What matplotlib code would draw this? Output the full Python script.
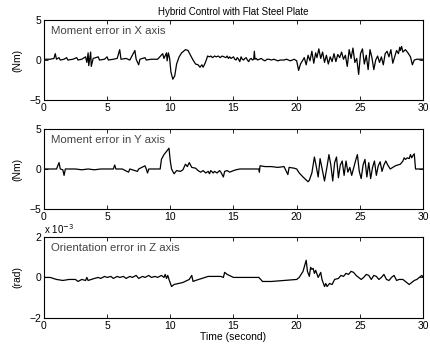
import matplotlib
matplotlib.use("Agg")
import matplotlib.pyplot as plt

plt.rcParams['font.family'] = ['Liberation Sans', 'DejaVu Sans']

title = "Hybrid Control with Flat Steel Plate"
labels = ["Moment error in X axis", "Moment error in Y axis", "Orientation error in Z axis"]
ylabels = ["(Nm)", "(Nm)", "(rad)"]
xlabel = "Time (second)"
xticks = [0, 5, 10, 15, 20, 25, 30]

tx = [0.0, 0.5, 0.8, 0.9, 1.0, 1.2, 1.3, 1.6, 1.8, 1.9, 2.3, 2.6, 2.7, 3.0, 3.3, 3.4, 3.5, 3.55, 3.7, 3.75,
      3.9, 4.3, 4.4, 4.8, 5.0, 5.1, 5.5, 5.8, 6.0, 6.1, 6.5, 6.8, 7.2, 7.3, 7.5, 7.6, 8.0, 8.1, 8.5, 9.0,
      9.4, 9.5, 9.7, 9.75, 9.85, 9.95, 10.05, 10.2, 10.35, 10.5, 10.7, 10.9, 11.2, 11.4, 11.6, 11.8, 12.0,
      12.2, 12.35, 12.5, 12.6, 12.75, 12.85, 12.95, 13.1, 13.2, 13.35, 13.5, 13.65, 13.8, 13.95, 14.1, 14.25,
      14.4, 14.5, 14.6, 14.7, 14.8, 14.9, 15.0, 15.1, 15.2, 15.3, 15.4, 15.5, 15.6, 15.7, 15.8, 15.9, 16.0,
      16.1, 16.2, 16.3, 16.4, 16.5, 16.6, 16.65, 16.7, 16.8, 16.9, 17.05, 17.2, 17.35, 17.5, 17.65, 17.8,
      18.0, 18.2, 18.5, 18.7, 19.0, 19.2, 19.5, 19.65, 19.8, 20.0, 20.15, 20.3, 20.45, 20.6, 20.75, 20.9,
      21.05, 21.2, 21.35, 21.5, 21.6, 21.75, 21.9, 22.05, 22.2, 22.35, 22.5, 22.65, 22.8, 22.95, 23.1, 23.25,
      23.4, 23.55, 23.7, 23.85, 24.0, 24.15, 24.3, 24.45, 24.6, 24.75, 24.9, 25.05, 25.2, 25.35, 25.5, 25.65,
      25.8, 25.95, 26.1, 26.25, 26.4, 26.55, 26.7, 26.85, 27.0, 27.15, 27.3, 27.45, 27.6, 27.75, 27.9, 28.05,
      28.15, 28.2, 28.3, 28.4, 28.6, 28.8, 29.0, 29.15, 29.3, 29.5, 30.0]
mx = [0.1, 0.1, 0.2, 0.8, 0.1, 0.3, 0.0, 0.1, 0.3, 0.0, 0.1, 0.3, 0.0, 0.1, 0.4, -0.3, 0.9, -0.7, 1.0, -0.8,
      0.2, 0.4, 0.0, 0.1, 0.4, 0.0, 0.1, 0.2, 1.3, 0.1, 0.2, 0.0, 1.2, 0.1, -0.6, 0.1, 0.3, 0.0, 0.1, 0.1,
      0.8, 0.2, 0.9, -0.1, 0.9, 0.2, -1.5, -2.4, -2.0, -0.5, 0.4, 0.9, 1.3, 1.2, 0.6, 0.0, -0.5,
      -0.6, -0.9, -0.6, -0.9, -0.4, 0.0, 0.5, 0.4, 0.5, 0.3, 0.5, 0.4, 0.5, 0.3, 0.5, 0.4,
      0.3, 0.5, 0.2, 0.4, 0.2, 0.3, 0.4, 0.1, 0.0, 0.3, 0.1, -0.2, 0.4, 0.1, 0.0, 0.2, 0.3,
      0.0, -0.2, 0.1, 0.2, 0.0, 0.1, 1.1, 0.1, 0.2, 0.0, 0.1, 0.2, 0.0, -0.1, 0.1, 0.1,
      0.0, 0.1, -0.1, 0.0, 0.0, 0.1, -0.1, 0.0, 0.1, -0.1, -1.3, -0.5, -0.1, 0.3, -0.6, 0.6,
      -0.1, 1.1, -0.4, 0.9, 0.3, 1.4, 0.2, 1.0, -0.3, 0.6, -0.5, 0.4, -0.2, 0.8, -0.2, 0.7,
      0.3, 1.0, 0.1, 0.6, -0.8, 1.3, 0.2, 1.5, -0.3, 0.2, -1.8, 0.8, 1.4, -0.5, 0.6, -1.2,
      1.3, 0.3, -1.2, 0.0, 0.5, -0.3, 0.4, -0.6, 0.8, 1.1, 0.4, 1.3, -0.4, 0.4, 1.2, 0.8,
      1.6, 1.2, 1.7, 1.0, 1.3, 0.9, 0.4, -0.6, 0.0, 0.1, 0.1]

ty = [0.0, 0.5, 1.0, 1.2, 1.3, 1.5, 1.6, 1.7, 2.5, 3.0, 3.5, 4.0, 4.5, 5.0, 5.5, 5.6, 5.7, 6.2, 6.7, 6.8,
      7.4, 7.5, 8.0, 8.1, 8.2, 8.3, 8.8, 9.2, 9.3, 9.4, 9.5, 9.7, 9.9, 10.0, 10.1, 10.3, 10.5, 10.8, 11.0,
      11.2, 11.35, 11.5, 11.7, 12.0, 12.2, 12.4, 12.6, 12.8, 13.0, 13.1, 13.2, 13.4, 13.5, 13.7, 13.9, 14.0,
      14.2, 14.3, 14.5, 14.7, 15.0, 15.2, 15.5, 16.0, 16.5, 17.0, 17.05, 17.1,
      17.5, 18.0, 18.5, 19.0, 19.3, 19.4, 19.8, 20.0, 20.2, 20.5, 20.7, 20.9, 21.0, 21.2, 21.4, 21.55, 21.7,
      21.85, 22.0, 22.2, 22.4, 22.55, 22.7, 22.85, 23.0, 23.15, 23.3, 23.45, 23.6, 23.75, 23.9, 24.05, 24.2,
      24.35, 24.5, 24.65, 24.8, 24.95, 25.1, 25.25, 25.4, 25.55, 25.7, 25.85, 26.0, 26.15, 26.3, 26.45, 26.6,
      26.75, 26.9, 27.05, 27.2, 27.4, 27.6, 27.8, 28.0, 28.2, 28.4, 28.5, 28.6, 28.75, 28.9, 29.0, 29.1,
      29.2, 29.3, 29.4, 30.0]
my = [0.0, 0.0, 0.0, 0.8, 0.0, -0.1, -0.8, 0.0, 0.0, -0.1, 0.0, -0.1, 0.0, 0.0, 0.0, 0.5, 0.0, 0.0, -0.4, 0.0,
      -0.3, 0.0, 0.4, 0.0, -0.5, 0.0, 0.0, 0.0, 1.2, 1.5, 1.8, 2.2, 2.6, 1.0, 0.0, -0.6, -0.2, -0.3, -0.1,
      0.6, 0.3, 0.8, 0.2, 0.1, -0.2, -0.4, -0.2, -0.5, -0.3, -0.6, -0.2, -0.5, -0.3, -0.5, -0.2, -0.4,
      -1.0, -0.3, -0.2, -0.4, -0.2, -0.1, 0.0, 0.0, 0.0, 0.0, -0.4, 0.4,
      0.3, 0.3, 0.2, 0.3, -0.7, 0.2, 0.1, 0.0, -0.5, -1.0, -1.3, -1.6, -1.4, -0.5, 1.5, 0.3, -1.0,
      1.3, 0.1, -1.5, 0.3, 1.8, 0.5, -1.5, 0.8, 1.5, -1.1, 0.5, 1.0, -0.8, 1.0, -0.4, 0.2,
      -0.8, 0.1, 1.0, 1.8, -0.3, -1.2, 0.5, 1.2, -1.0, 0.8, -1.2, 0.2, 1.0, -0.8, 0.4, 0.9,
      -0.3, 0.5, 1.0, 0.5, 0.0, 0.2, 0.4, 0.5, 0.6, 1.0, 1.4, 1.2, 1.4, 1.3, 1.8, 1.4,
      1.7, 1.9, 0.0, 0.0]

tz = [0.0, 0.5, 1.0, 1.5, 2.0, 2.5, 2.7, 3.0, 3.3, 3.4, 3.5, 4.0, 4.3, 4.5, 4.8, 5.0, 5.3, 5.5, 5.8, 6.0,
      6.3, 6.5, 6.8, 7.0, 7.3, 7.5, 7.8, 8.0, 8.3, 8.5, 8.8, 9.0, 9.3, 9.5, 9.6, 9.7, 9.8, 9.9, 10.1, 10.3,
      11.0, 11.5, 11.7, 11.8, 12.0, 13.0, 14.0, 14.2, 14.3, 14.5, 15.0, 16.0, 17.0, 17.3, 18.0, 19.0, 20.0,
      20.2, 20.5, 20.75, 20.85, 21.0, 21.1, 21.2, 21.3, 21.4, 21.5, 21.7, 21.9, 22.0, 22.2, 22.3, 22.4, 22.6,
      22.8, 23.0, 23.3, 23.5, 23.7, 23.9, 24.1, 24.3, 24.5, 24.7, 24.9, 25.1, 25.3, 25.5, 25.7, 25.9, 26.1,
      26.3, 26.5, 26.7, 26.9, 27.1, 27.3, 27.5, 27.7, 27.9, 28.1, 28.4, 28.7, 28.9, 29.1, 29.3, 29.5, 29.7,
      29.9, 30.0]
ez = [0.0, 0.0, -0.1, -0.15, -0.1, -0.1, -0.2, -0.1, -0.15, 0.0, -0.15, -0.05, 0.0, -0.05, 0.05, 0.0, 0.05,
      -0.05, 0.05, 0.0, 0.05, -0.05, 0.05, 0.0, 0.1, -0.05, 0.05, 0.0, 0.1, 0.0, 0.05, 0.0, 0.1, 0.0, 0.15,
      -0.05, 0.1, -0.1, -0.45, -0.35, -0.25, -0.1, 0.1, -0.2, -0.15, 0.05, 0.05, 0.0, 0.25, 0.15, 0.0, 0.0,
      0.0, -0.2, -0.2, -0.15, -0.1, 0.0, 0.3, 0.85, 0.3, 0.05, 0.5, 0.4, 0.45, 0.2, 0.35, 0.0, 0.25, -0.1,
      -0.45, -0.3, -0.45, -0.3, -0.35, -0.1, -0.05, 0.1, 0.05, 0.2, 0.15, 0.3, 0.25, 0.1, 0.0, -0.1, 0.0,
      0.15, 0.1, -0.1, 0.1, 0.05, -0.1, 0.0, 0.15, -0.1, -0.15, 0.0, 0.1, -0.15, -0.1, -0.1, -0.25, -0.35,
      -0.25, -0.15, -0.1, 0.0, 0.1, 0.0]

series = [(tx, mx), (ty, my), (tz, ez)]
ylims = [(-5, 5), (-5, 5), (-2, 2)]
yticks = [[-5, 0, 5], [-5, 0, 5], [-2, 0, 2]]

fig = plt.figure(figsize=(4.3, 3.47), dpi=100)
boxes = [(0.102, 0.712, 0.882, 0.230), (0.102, 0.398, 0.882, 0.230), (0.102, 0.084, 0.882, 0.233)]
axes = []
for i, (box, (t, v)) in enumerate(zip(boxes, series)):
    ax = fig.add_axes(box)
    ax.plot(t, v, color='black', linewidth=0.9)
    ax.set_xlim(0, 30)
    ax.set_ylim(*ylims[i])
    ax.set_xticks(xticks)
    ax.set_yticks(yticks[i])
    ax.tick_params(direction='in', top=True, right=True, labelsize=7.5, length=3, width=0.6, pad=2)
    for s in ax.spines.values():
        s.set_linewidth(0.8)
    ax.set_ylabel(ylabels[i], fontsize=7.5, labelpad=5)
    ax.text(0.018, 0.86, labels[i], transform=ax.transAxes, fontsize=8.2, color='#444444', va='center', ha='left')
    axes.append(ax)

axes[0].set_title(title, fontsize=7, pad=4)
axes[2].set_xlabel(xlabel, fontsize=7.5, labelpad=1)
axes[2].text(0.0, 1.01, r"x 10$^{-3}$", transform=axes[2].transAxes, fontsize=7, ha='left', va='bottom')

fig.savefig("out.png", dpi=100)
